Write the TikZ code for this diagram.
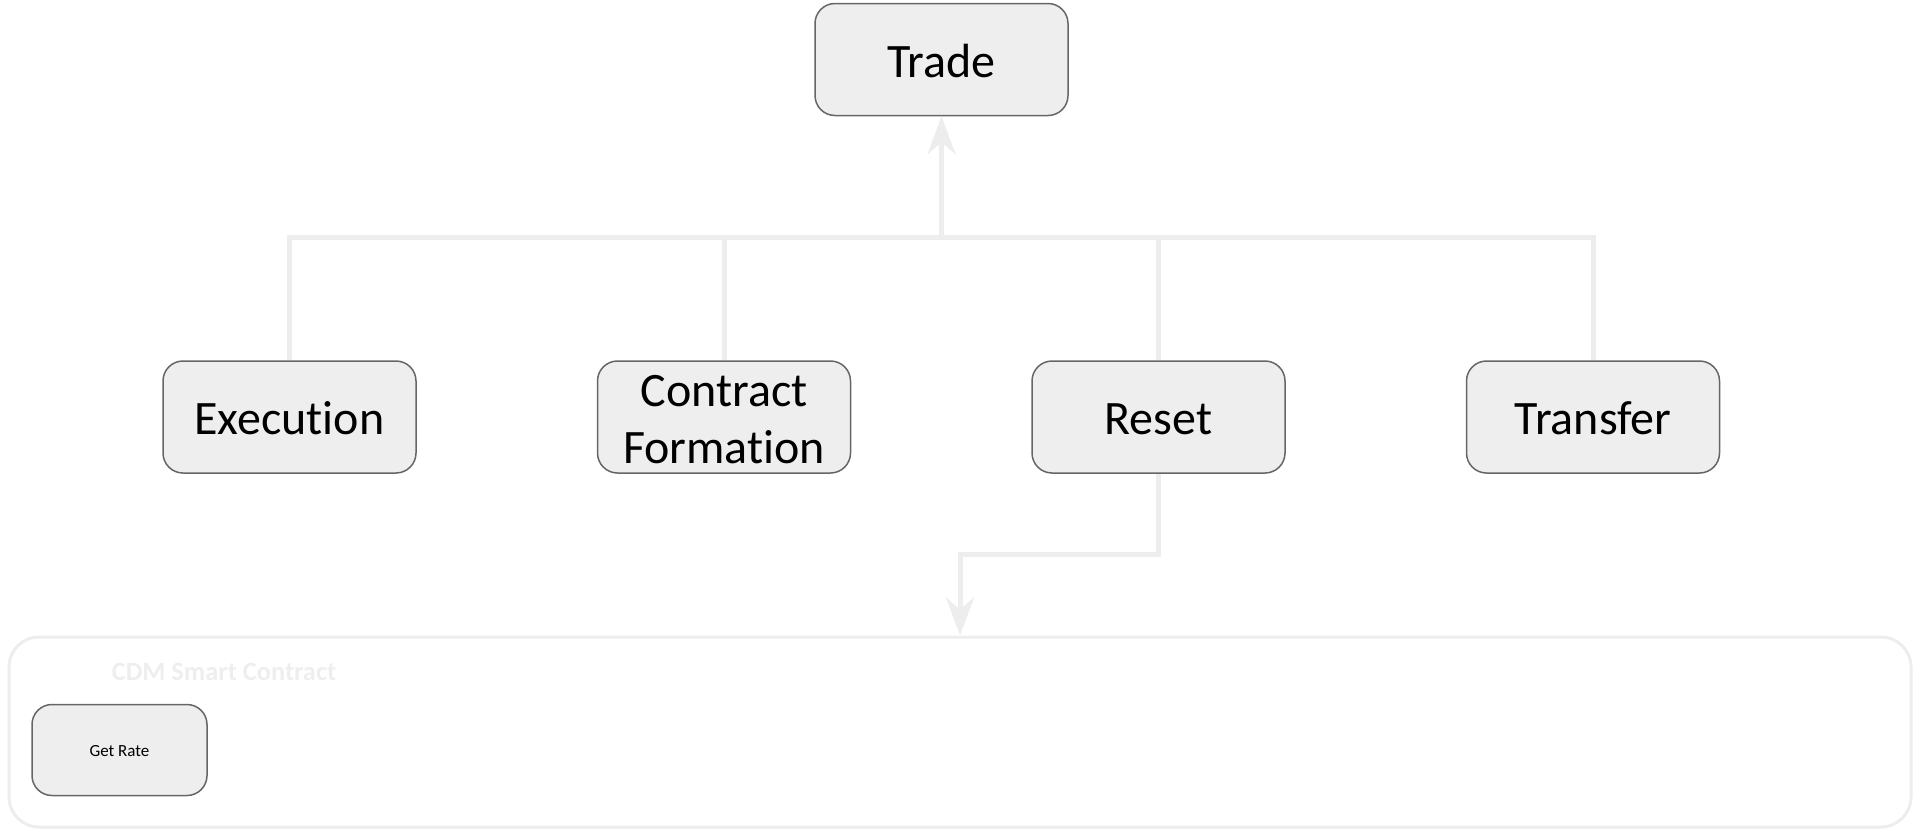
\documentclass[tikz,border=0pt]{standalone}
\usepackage{fontspec}
\setmainfont{Carlito}[RawFeature={-liga;-clig;-calt}]
\usepackage{tikz}
\usetikzlibrary{positioning,arrows.meta,calc}
\definecolor{boxfill}{HTML}{EEEEEE}
\definecolor{boxline}{HTML}{666666}
\definecolor{wire}{HTML}{EDEDED}

\begin{document}
\begin{tikzpicture}[
    x=0.5pt, y=-0.5pt, node distance=90pt,
    >={Stealth[length=19pt, width=14pt, inset=6pt]},
    evt/.style={draw=boxline, line width=0.75pt, fill=boxfill, rounded corners=10pt,
      align=center, minimum width=126.5pt, minimum height=56pt, inner sep=0pt,
      font=\fontsize{24}{28.5}\selectfont,
      execute at begin node={\rule{0pt}{1em}},
      execute at end node={\rule[-0.258em]{0pt}{0.258em}}},
    conn/.style={draw=wire, line width=2.5pt},
    frame/.style={draw=wire, line width=1.5pt, rounded corners=15pt, minimum width=951pt, minimum height=95pt}]
  \useasboundingbox (0,0) rectangle (1920,831);
  \node[evt] (trade) at (941.5,59.5) {Trade};
  \node[evt] (exec) at (289.5,417) {Execution};
  \node[evt, right=of exec, text height=46.5pt, text depth=0pt] (form) {Contract\\Formation};
  \node[evt, right=of form] (reset) {Reset};
  \node[evt, right=of reset] (xfer) {Transfer};
  \coordinate (bus) at (941.5,237);
  % smart contract container
  \node[frame] (cdm) at (960,732) {};
  \node[font=\bfseries\fontsize{13.2}{15}\selectfont, text=boxfill] (cdmlbl) at (224,672) {CDM Smart Contract};
  \node[evt, minimum width=87.5pt, minimum height=45.5pt, font=\fontsize{8.5}{10}\selectfont] (rate) at (119.5,750) {Get Rate};
  % connectors
  \draw[conn] (exec.north) |- (bus);
  \draw[conn] (form.north) |- (bus);
  \draw[conn] (reset.north) |- (bus);
  \draw[conn] (xfer.north) |- (bus);
  \draw[conn, ->] (bus) -- (trade.south);
  \draw[conn, ->] (reset.south) |- ($(reset.south)!0.5!(cdm.north)$) -| (cdm.north);
\end{tikzpicture}
\end{document}
